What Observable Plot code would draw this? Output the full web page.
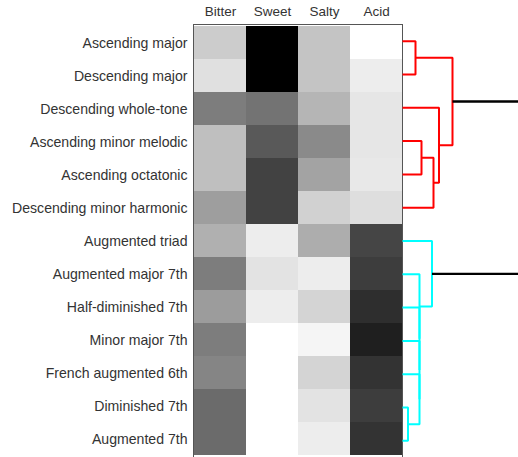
<!DOCTYPE html>
<html>
<head>
<meta charset="utf-8">
<script src="https://cdn.jsdelivr.net/npm/d3@7"></script>
<script src="https://cdn.jsdelivr.net/npm/@observablehq/plot@0.6"></script>
<style>
  html, body { margin: 0; padding: 0; background: #fff; }
  #chart { position: relative; width: 518px; height: 457px; overflow: hidden; }
  #chart svg { position: absolute; left: 0; top: 0; }
</style>
</head>
<body>
<div id="chart"></div>
<script>
// ---- data ----
const rows = [
  "Ascending major", "Descending major", "Descending whole-tone",
  "Ascending minor melodic", "Ascending octatonic", "Descending minor harmonic",
  "Augmented triad", "Augmented major 7th", "Half-diminished 7th",
  "Minor major 7th", "French augmented 6th", "Diminished 7th", "Augmented 7th"
];
const tastes = ["Bitter", "Sweet", "Salty", "Acid"];
// gray level of each cell (0 = black, 1 = white)
const bitter = [0.80, 0.88, 0.49, 0.75, 0.75, 0.62, 0.69, 0.49, 0.61, 0.49, 0.52, 0.42, 0.42];
const sweet  = [0.00, 0.00, 0.45, 0.35, 0.26, 0.26, 0.93, 0.89, 0.93, 1.00, 1.00, 1.00, 1.00];
const salty  = [0.77, 0.77, 0.71, 0.54, 0.64, 0.82, 0.68, 0.93, 0.83, 0.96, 0.83, 0.89, 0.93];
const acid   = [1.00, 0.93, 0.90, 0.90, 0.91, 0.87, 0.27, 0.24, 0.18, 0.12, 0.20, 0.24, 0.20];

// dendrogram linkage (leaves 0..12, internal nodes 13..)
const linkA = [0, 3, 14, 2, 13, 11, 18, 19, 20, 21, 6, 17];
const linkB = [1, 4, 5, 15, 16, 12, 10, 9, 8, 7, 22, 23];
const linkH = [0.26, 0.38, 0.62, 0.73, 1.00, 0.11, 0.34, 0.34, 0.34, 0.34, 0.59, 2.6];
const linkColor = ["red", "red", "red", "red", "red", "cyan", "cyan", "cyan", "cyan", "cyan", "cyan", "black"];

// ---- build tables ----
const cols = [bitter, sweet, salty, acid];
const cells = [];
rows.forEach((r, i) => tastes.forEach((t, j) => cells.push({row: r, taste: t, value: cols[j][i]})));

const n = rows.length;
const pos = rows.map((_, i) => i);
const hgt = rows.map(() => 0);
const segs = [];
linkA.forEach((a, k) => {
  const b = linkB[k], h = linkH[k];
  const id = n + k;
  pos[id] = (pos[a] + pos[b]) / 2;
  hgt[id] = h;
  const c = linkColor[k];
  const w = c === "black" ? 2.3 : 2;
  [[hgt[a], pos[a]], [h, pos[a]], [h, pos[b]], [hgt[b], pos[b]]]
    .forEach(([x, y]) => segs.push({id, x, y, c, w}));
});

const W = 518, H = 457;
const font = {fontFamily: "'Liberation Sans', Arial, Helvetica, sans-serif", fontSize: "14px", color: "#333333", background: "transparent"};

const heat = Plot.plot({
  width: W, height: H,
  marginLeft: 193, marginRight: 116, marginTop: 24, marginBottom: 0,
  style: font,
  x: {domain: tastes, padding: 0, label: null},
  y: {domain: rows, padding: 0, label: null},
  color: {type: "linear", domain: [0, 1], range: ["#000000", "#ffffff"], interpolate: "rgb"},
  marks: [
    Plot.cell(cells, {x: "taste", y: "row", fill: "value", inset: 0}),
    Plot.frame({stroke: "#555555", strokeWidth: 1}),
    Plot.axisX({anchor: "top", tickSize: 0, tickPadding: 9, fontSize: 13.5, label: null}),
    Plot.axisY({anchor: "left", tickSize: 0, tickPadding: 6, fontSize: 14.1, label: null})
  ]
});

const dendro = Plot.plot({
  width: W, height: H,
  marginLeft: 402, marginRight: 0, marginTop: 24, marginBottom: 0,
  style: font,
  x: {domain: [0, 2.32], axis: null},
  y: {domain: [-0.5, n - 0.5], reverse: true, axis: null},
  color: {type: "identity"},
  clip: true,
  marks: [
    Plot.line(segs, {x: "x", y: "y", z: "id", stroke: "c", strokeWidth: d => d.w, strokeLinejoin: "miter", strokeLinecap: "butt", clip: true})
  ]
});

const el = document.getElementById("chart");
el.appendChild(heat);
el.appendChild(dendro);
</script>
</body>
</html>
